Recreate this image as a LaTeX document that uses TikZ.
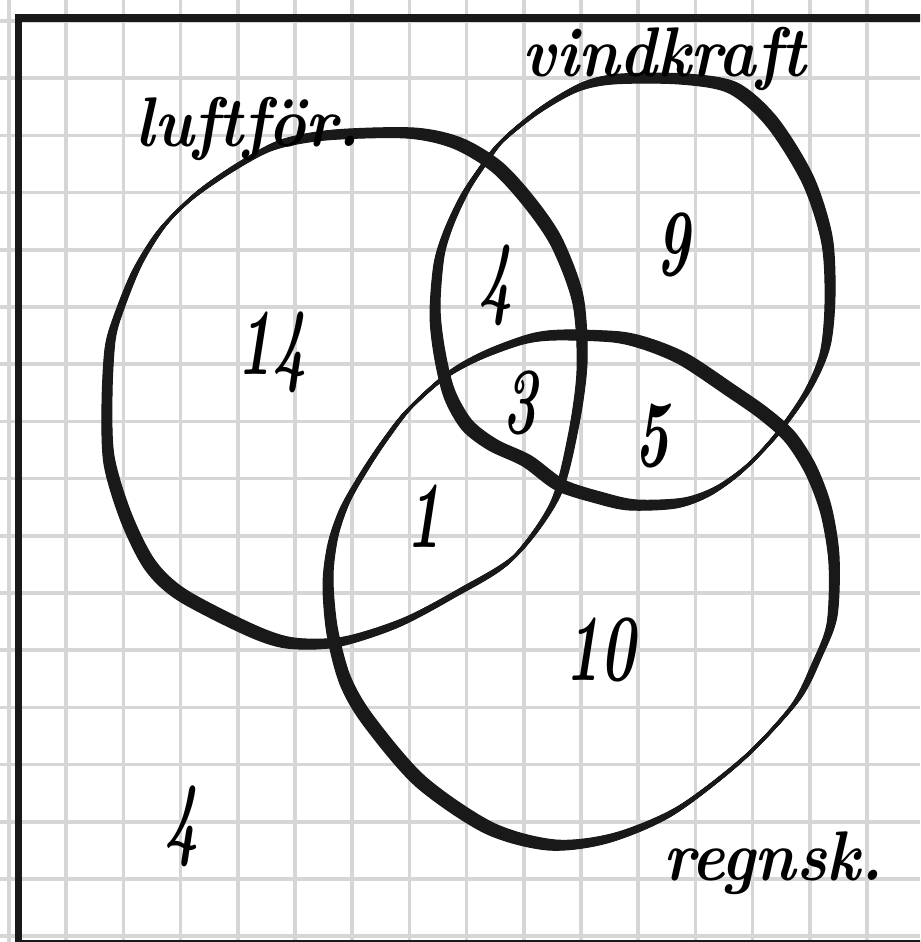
\documentclass[tikz,border=0pt]{standalone}
\usepackage{graphicx}
\tikzset{
  gridline/.style={line width=0.07cm,black!16},
  frame/.style={line width=0.16cm,black!90,line join=miter},
  pen/.style={line width=0.06cm,black!90,line join=round},
  setname/.style={font=\fontsize{40}{40}\selectfont\bfseries\itshape,inner sep=0pt,anchor=base west},
  num/.style={font=\fontsize{54}{54}\selectfont\bfseries\itshape,inner sep=0pt}
}
\newcommand{\squeeze}[1]{\scalebox{0.62}[1]{#1}}
\newcommand{\slim}[1]{\scalebox{0.9}[1]{#1}}
\begin{document}
\begin{tikzpicture}[x=0.02cm,y=-0.02cm]
\useasboundingbox (0,0) rectangle (920,942);
\clip (0,0) rectangle (920,942);

\foreach \k in {0,...,16}{
  \draw[gridline] (9+57.2*\k,0) -- (9+57.2*\k,942);
  \draw[gridline] (0,21+57.2*\k) -- (920,21+57.2*\k);
}
\draw[frame] (18.5,18.5) rectangle (950,944);

% the three sets, drawn with a slanted nib
\foreach \s in {-4,-3.5,...,4}{
  \draw[pen,shift={(\s,-\s)}] plot[smooth cycle] coordinates {
    (330,135) (410,133) (457,143) (497,167) (530,203) (557,243) (578,300)
    (582,367) (573,433) (555,500) (513,558) (457,593) (400,623) (340,642)
    (290,643) (250,630) (182,595) (150,565) (126,517) (109,460) (107,400)
    (110,345) (118,315) (137,268) (162,228) (194,196) (234,168) (277,145)};
  \draw[pen,shift={(\s,-\s)}] plot[smooth cycle] coordinates {
    (617,79) (683,79) (733,88) (772,122) (808,180) (827,240) (830,300)
    (825,350) (808,390) (778,433) (745,468) (713,491) (680,503) (633,505)
    (600,498) (560,485) (527,461) (493,445) (467,425) (449,393) (439,350)
    (435,310) (439,260) (449,227) (465,193) (482,167) (502,141) (540,110)
    (580,87)};
  \draw[pen,shift={(\s,-\s)}] plot[smooth cycle] coordinates {
    (560,335) (617,337) (650,345) (685,360) (730,390) (763,413) (790,437)
    (811,470) (826,510) (834,560) (832,620) (817,660) (795,703) (744,758)
    (675,811) (611,838) (552,845) (489,828) (420,781) (368,720) (345,680)
    (332,630) (328,580) (333,540) (345,505) (365,470) (385,440) (409,409)
    (447,375) (483,355) (527,339)};
}

\node[setname] (luft) at (135,147) {\slim{luftför.}};
\node[setname] (vind) at (522,77) {\slim{vindkraft}};
\node[setname] (regn) at (663,880) {\slim{regnsk.}};

\node[num] (n14) at (272,352) {\squeeze{14}};
\node[num] (n4a) at (496,285) {\squeeze{4}};
\node[num] (n9) at (673,245) {\squeeze{9}};
\node[num] (n3) at (520,403) {\squeeze{3}};
\node[num] (n5) at (652,436) {\squeeze{5}};
\node[num] (n1) at (424,516) {\squeeze{1}};
\node[num] (n10) at (600,650) {\squeeze{10}};
\node[num] (n4b) at (182,826) {\squeeze{4}};
\end{tikzpicture}
\end{document}
